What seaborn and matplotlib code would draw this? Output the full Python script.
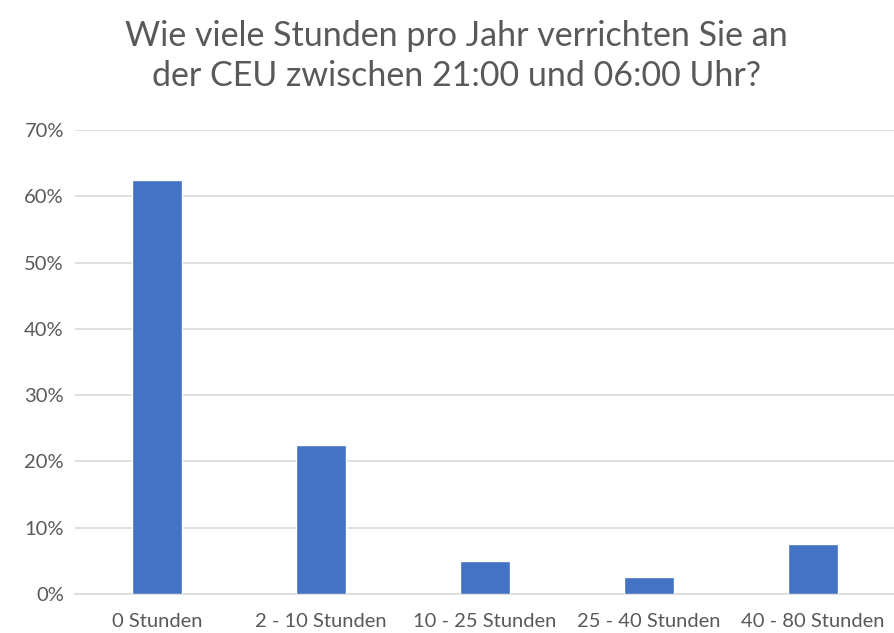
import numpy as np
import pandas as pd
import seaborn as sns
import matplotlib.pyplot as plt
from matplotlib.ticker import PercentFormatter

# Data
categories = ["0 Stunden", "2 - 10 Stunden", "10 - 25 Stunden", "25 - 40 Stunden", "40 - 80 Stunden"]
shares = [0.625, 0.225, 0.05, 0.025, 0.075]

df = pd.DataFrame({"Kategorie": categories, "Anteil": shares})

sns.set_theme(style="white")
plt.rcParams["font.family"] = ["Lato", "DejaVu Sans"]

fig = plt.figure(figsize=(8.95, 6.33), dpi=100)
ax = fig.add_axes([0.0838, 0.0616, 0.9162, 0.733])

sns.barplot(data=df, x="Kategorie", y="Anteil", color="#4472C4", width=0.31,
            saturation=1, ax=ax, zorder=3)

ax.set_ylim(0, 0.7)
ax.set_xlim(-0.5, 4.5)
ax.set_yticks(np.arange(0, 0.71, 0.1))
ax.yaxis.set_major_formatter(PercentFormatter(1.0, decimals=0))
ax.grid(axis="y", color="#d9d9d9", linewidth=1.2, zorder=0)
ax.set_xlabel("")
ax.set_ylabel("")
for s in ["top", "right", "left"]:
    ax.spines[s].set_visible(False)
ax.spines["bottom"].set_color("#d9d9d9")
ax.spines["bottom"].set_linewidth(1.2)
ax.tick_params(axis="both", length=0, labelsize=14.5, colors="#595959")
ax.tick_params(axis="x", pad=14)
ax.tick_params(axis="y", pad=8)

fig.text(0.51, 0.912, "Wie viele Stunden pro Jahr verrichten Sie an\nder CEU zwischen 21:00 und 06:00 Uhr?",
         ha="center", va="center", fontsize=24.5, color="#595959", linespacing=1.3)

fig.savefig("out.png", dpi=100)
